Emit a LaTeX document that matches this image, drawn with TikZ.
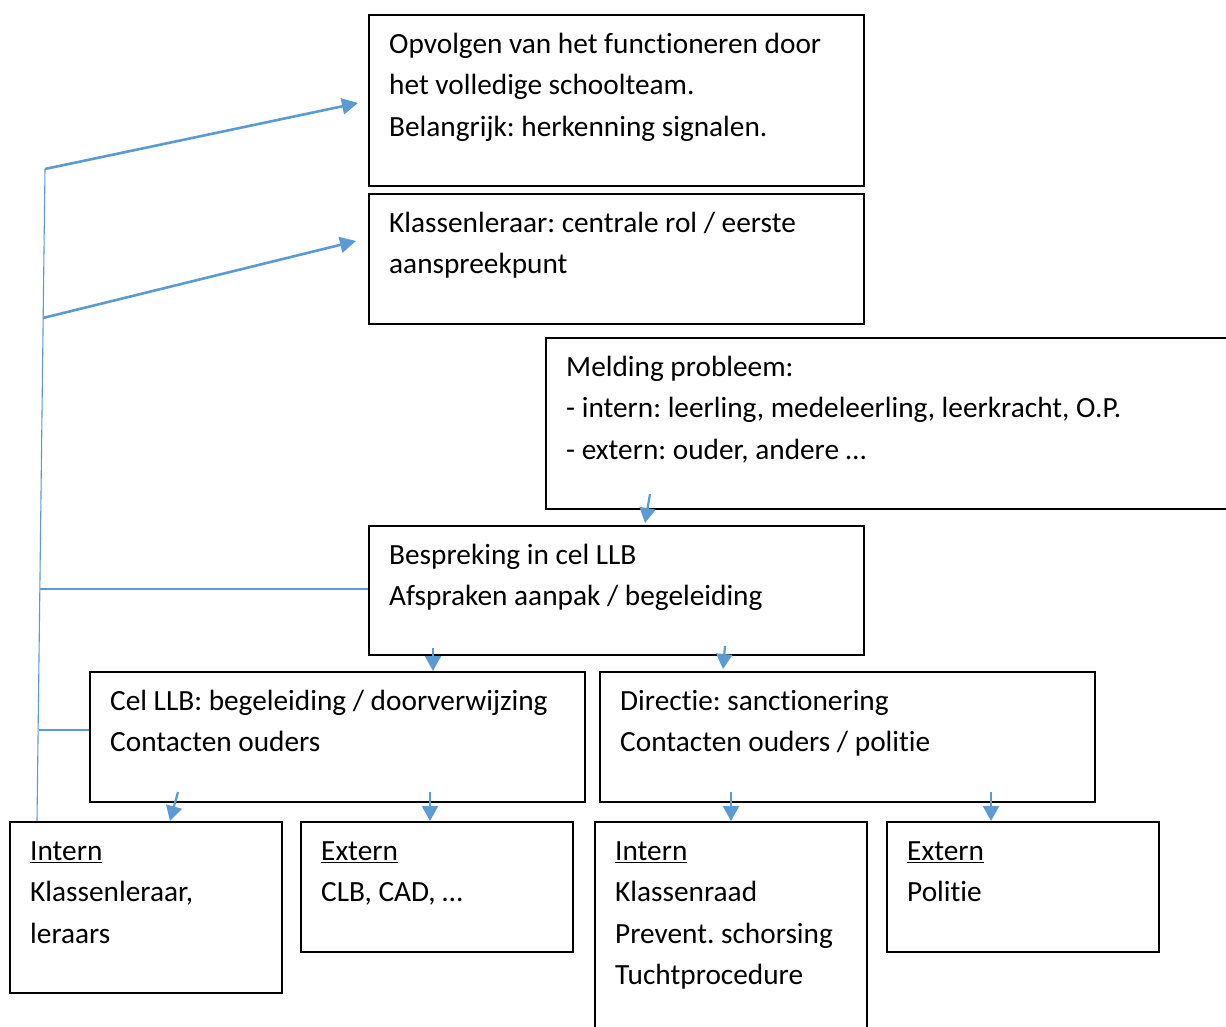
\documentclass[tikz,border=0pt]{standalone}
\usepackage{fontspec}
\setmainfont{Carlito}[Ligatures=NoCommon]
\usetikzlibrary{arrows.meta}
\definecolor{lineblue}{HTML}{5B9BD5}
\frenchspacing
\begin{document}
\begin{tikzpicture}[x=1pt,y=-1pt,
  box/.style={draw=black, line width=1.6pt, inner sep=0pt, anchor=north west},
  txt/.style={anchor=north west, inner sep=0pt, align=left, font=\fontsize{29.3}{41.5}\selectfont},
  thinline/.style={draw=lineblue, line width=1.1pt},
  bigarrow/.style={draw=lineblue, line width=2.6pt, -{Triangle[length=16pt,width=16pt]}},
  smallarrow/.style={draw=lineblue, line width=2.2pt, -{Triangle[length=15pt,width=16pt]}}
]
\clip (0,0) rectangle (1226,1027);
\fill[white] (0,0) rectangle (1226,1027);

% boxes
\node[box, minimum width=495pt, minimum height=171pt] (b1) at (368,14) {};
\node[box, minimum width=495pt, minimum height=130pt] (b2) at (368,193) {};
\node[box, minimum width=700pt, minimum height=171pt] (b3) at (545,337) {};
\node[box, minimum width=495pt, minimum height=129pt] (b4) at (368,525) {};
\node[box, minimum width=495pt, minimum height=130pt] (b5) at (89,671) {};
\node[box, minimum width=495pt, minimum height=130pt] (b6) at (599,671) {};
\node[box, minimum width=272pt, minimum height=171pt] (b7) at (9,821) {};
\node[box, minimum width=272pt, minimum height=130pt] (b8) at (300,821) {};
\node[box, minimum width=272pt, minimum height=230pt] (b9) at (594,821) {};
\node[box, minimum width=272pt, minimum height=130pt] (b10) at (886,821) {};

% texts
\node[txt] (t1) at (389,24) {\strut Opvolgen van het functioneren door\\het volledige schoolteam.\\Belangrijk: herkenning signalen.};
\node[txt] (t2) at (389,203) {\strut Klassenleraar: centrale rol / eerste\\aanspreekpunt};
\node[txt] (t3) at (566,347) {\strut Melding probleem:\\- intern: leerling, medeleerling, leerkracht, O.P.\\- extern: ouder, andere …};
\node[txt] (t4) at (389,535) {\strut Bespreking in cel LLB\\Afspraken aanpak / begeleiding};
\node[txt] (t5) at (110,681) {\strut Cel LLB: begeleiding / doorverwijzing\\Contacten ouders};
\node[txt] (t6) at (620,681) {\strut Directie: sanctionering\\Contacten ouders / politie};
\node[txt] (t7) at (30,831) {\strut\underline{Intern}\\Klassenleraar,\\leraars};
\node[txt] (t8) at (321,831) {\strut\underline{Extern}\\CLB, CAD, …};
\node[txt] (t9) at (615,831) {\strut\underline{Intern}\\Klassenraad\\Prevent. schorsing\\Tuchtprocedure};
\node[txt] (t10) at (907,831) {\strut\underline{Extern}\\Politie};

% left spine
\coordinate (s1) at (45,169);
\coordinate (s2) at (43,318);
\coordinate (s3) at (40,589);
\coordinate (s4) at (39,730);
\coordinate (s5) at (37,821);
\coordinate (e1) at (358,103);
\coordinate (e2) at (356,241);
\draw[thinline] (s1) -- (s5);
\draw[bigarrow] (s1) -- (e1);
\draw[bigarrow] (s2) -- (e2);
\draw[thinline] (s3) -- (b4.west |- s3);
\draw[thinline] (s4) -- (b5.west |- s4);

% short arrows
\coordinate (a1s) at (650,494); \coordinate (a1e) at (645,523);
\coordinate (a2s) at (433,648); \coordinate (a2e) at (433,671);
\coordinate (a3s) at (725,646); \coordinate (a3e) at (723,669);
\coordinate (a4s) at (178,792); \coordinate (a4e) at (170,821);
\coordinate (a5s) at (430,792); \coordinate (a5e) at (430,821);
\coordinate (a6s) at (731,792); \coordinate (a6e) at (731,821);
\coordinate (a7s) at (991,792); \coordinate (a7e) at (991,821);
\draw[smallarrow] (a1s) -- (a1e);
\draw[smallarrow] (a2s) -- (a2e);
\draw[smallarrow] (a3s) -- (a3e);
\draw[smallarrow] (a4s) -- (a4e);
\draw[smallarrow] (a5s) -- (a5e);
\draw[smallarrow] (a6s) -- (a6e);
\draw[smallarrow] (a7s) -- (a7e);
\end{tikzpicture}
\end{document}
